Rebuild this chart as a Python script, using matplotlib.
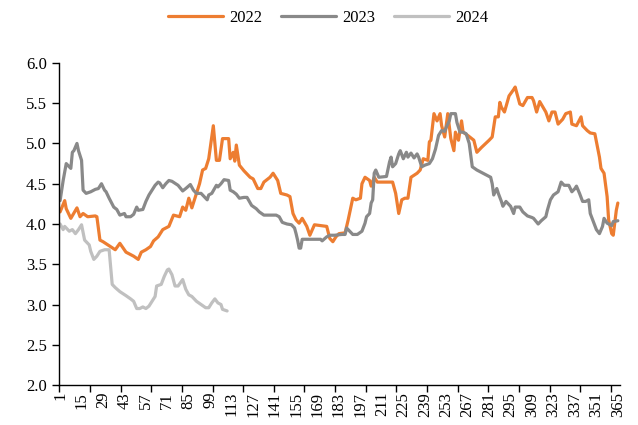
import matplotlib
matplotlib.use("Agg")
import matplotlib.pyplot as plt
from matplotlib.ticker import FixedLocator, NullFormatter

# ─── data (day of year, value) ───────────────────────────────────────────────

days_2022 = [1, 4, 5, 8, 12, 14, 16, 19, 24, 25, 27, 29, 37, 40, 44, 49, 52, 54,
             57, 60, 62, 65, 68, 72, 75, 79, 81, 83, 85, 87, 90, 92, 94, 96, 98,
             101, 103, 105, 107, 111, 112, 114, 115, 116, 118, 121, 125, 127, 130,
             132, 134, 138, 140, 143, 145, 149, 151, 153, 155, 157, 159, 162, 164,
             167, 171, 175, 177, 179, 181, 183, 187, 189, 192, 194, 197, 198, 200,
             203, 204, 206, 208, 218, 220, 222, 224, 226, 228, 230, 234, 236, 238,
             241, 242, 243, 245, 247, 249, 250, 252, 254, 256, 258, 259, 261, 263,
             264, 267, 271, 273, 276, 281, 283, 285, 287, 288, 289, 291, 294, 297,
             298, 301, 303, 306, 309, 310, 312, 314, 318, 320, 322, 324, 326, 329,
             331, 334, 335, 338, 341, 342, 345, 347, 350, 353, 354, 356, 358, 359,
             361, 362, 364, 365]
vals_2022 = [4.15, 4.29, 4.19, 4.07, 4.20, 4.09, 4.13, 4.09, 4.10, 4.09, 3.80, 3.78,
             3.68, 3.76, 3.65, 3.60, 3.56, 3.65, 3.68, 3.72, 3.79, 3.84, 3.93, 3.97,
             4.11, 4.09, 4.21, 4.17, 4.32, 4.20, 4.38, 4.50, 4.67, 4.69, 4.81, 5.22,
             4.79, 4.79, 5.06, 5.06, 4.81, 4.89, 4.78, 4.98, 4.73, 4.66, 4.58, 4.56,
             4.44, 4.44, 4.52, 4.58, 4.63, 4.54, 4.38, 4.36, 4.34, 4.13, 4.05, 4.01,
             4.07, 3.97, 3.86, 3.99, 3.98, 3.97, 3.82, 3.78, 3.84, 3.88, 3.89, 4.05,
             4.32, 4.30, 4.32, 4.50, 4.58, 4.54, 4.47, 4.58, 4.52, 4.52, 4.38, 4.13,
             4.30, 4.32, 4.32, 4.58, 4.63, 4.67, 4.81, 4.79, 5.02, 5.04, 5.37, 5.28,
             5.37, 5.22, 5.08, 5.37, 5.06, 4.91, 5.14, 5.04, 5.28, 5.14, 5.10, 5.04,
             4.89, 4.95, 5.04, 5.08, 5.33, 5.33, 5.51, 5.45, 5.39, 5.59, 5.67, 5.70,
             5.49, 5.47, 5.57, 5.57, 5.53, 5.39, 5.52, 5.39, 5.28, 5.39, 5.39, 5.24,
             5.30, 5.37, 5.39, 5.24, 5.22, 5.33, 5.22, 5.16, 5.13, 5.12, 4.83, 4.69,
             4.63, 4.34, 4.05, 3.88, 3.86, 4.17, 4.26]

days_2023 = [1, 3, 5, 7, 8, 9, 10, 12, 13, 15, 16, 18, 21, 24, 26, 28, 30, 31, 33,
             36, 38, 40, 43, 44, 47, 49, 51, 52, 55, 57, 59, 61, 63, 65, 66, 68, 70,
             72, 74, 78, 81, 83, 86, 88, 90, 93, 95, 97, 98, 100, 103, 104, 106, 108,
             111, 112, 114, 116, 118, 121, 123, 126, 129, 131, 134, 142, 144, 146,
             149, 152, 154, 155, 156, 157, 158, 159, 171, 172, 175, 177, 180, 185,
             187, 188, 190, 192, 195, 198, 200, 201, 203, 204, 205, 206, 207, 209,
             214, 216, 217, 218, 220, 222, 223, 225, 227, 228, 230, 232, 234, 235,
             237, 239, 242, 244, 246, 248, 250, 252, 253, 255, 256, 259, 260, 262,
             264, 266, 268, 270, 273, 277, 282, 283, 284, 286, 287, 289, 290, 292,
             295, 297, 298, 301, 303, 306, 309, 310, 313, 315, 318, 319, 321, 323,
             326, 328, 330, 333, 335, 337, 338, 340, 342, 344, 346, 347, 349, 351,
             353, 355, 356, 358, 361, 362, 365]
vals_2023 = [4.29, 4.54, 4.75, 4.71, 4.69, 4.89, 4.91, 5.00, 4.91, 4.79, 4.42, 4.38,
             4.40, 4.43, 4.44, 4.50, 4.42, 4.40, 4.32, 4.21, 4.18, 4.11, 4.13, 4.09,
             4.09, 4.12, 4.21, 4.17, 4.18, 4.28, 4.36, 4.42, 4.48, 4.52, 4.51, 4.45,
             4.50, 4.54, 4.53, 4.48, 4.41, 4.44, 4.49, 4.42, 4.38, 4.38, 4.34, 4.30,
             4.36, 4.38, 4.48, 4.46, 4.50, 4.55, 4.54, 4.42, 4.40, 4.37, 4.32, 4.33,
             4.33, 4.23, 4.19, 4.15, 4.11, 4.11, 4.09, 4.02, 4.00, 3.99, 3.95, 3.88,
             3.80, 3.70, 3.70, 3.81, 3.81, 3.79, 3.84, 3.86, 3.86, 3.87, 3.87, 3.95,
             3.91, 3.87, 3.87, 3.91, 4.01, 4.09, 4.13, 4.26, 4.30, 4.63, 4.67, 4.58,
             4.59, 4.77, 4.83, 4.71, 4.75, 4.87, 4.91, 4.81, 4.89, 4.83, 4.88, 4.82,
             4.87, 4.83, 4.71, 4.73, 4.75, 4.81, 4.93, 5.10, 5.16, 5.15, 5.20, 5.28,
             5.37, 5.37, 5.26, 5.14, 5.14, 5.12, 5.00, 4.71, 4.67, 4.63, 4.58, 4.50,
             4.36, 4.44, 4.38, 4.28, 4.22, 4.28, 4.22, 4.13, 4.21, 4.21, 4.15, 4.10,
             4.08, 4.07, 4.00, 4.04, 4.09, 4.17, 4.30, 4.36, 4.40, 4.52, 4.48, 4.48,
             4.40, 4.44, 4.47, 4.38, 4.28, 4.28, 4.30, 4.13, 4.03, 3.93, 3.88, 3.97,
             4.07, 4.01, 3.98, 4.03, 4.04]

days_2024 = [1, 3, 4, 7, 9, 11, 13, 15, 17, 20, 21, 23, 25, 27, 30, 33, 35, 37, 40,
             44, 47, 49, 51, 53, 55, 57, 59, 61, 63, 64, 67, 69, 71, 72, 74, 76, 78,
             81, 83, 85, 87, 90, 93, 96, 98, 100, 102, 104, 106, 107, 110]
vals_2024 = [4.00, 3.93, 3.97, 3.91, 3.93, 3.88, 3.93, 3.99, 3.80, 3.74, 3.66, 3.56,
             3.60, 3.66, 3.68, 3.68, 3.25, 3.21, 3.16, 3.11, 3.07, 3.04, 2.95, 2.95,
             2.97, 2.95, 2.98, 3.04, 3.10, 3.23, 3.25, 3.35, 3.43, 3.44, 3.37, 3.23,
             3.23, 3.31, 3.19, 3.12, 3.10, 3.04, 3.00, 2.96, 2.96, 3.02, 3.07, 3.02,
             3.00, 2.94, 2.92]

x_labels = list(range(1, 366, 14))
y_ticks = [2.0, 2.5, 3.0, 3.5, 4.0, 4.5, 5.0, 5.5, 6.0]

# ─── figure ──────────────────────────────────────────────────────────────────

plt.rcParams.update({
    "font.family": ["Liberation Serif", "DejaVu Serif"],
    "font.size": 12,
})

fig = plt.figure(figsize=(6.38, 4.25), dpi=100)
ax = fig.add_axes([0.093, 0.094, 0.879, 0.758])

lw = 2.3
ax.plot(days_2022, vals_2022, color="#ED7D31", lw=lw, label="2022",
        solid_joinstyle="round", solid_capstyle="round")
ax.plot(days_2023, vals_2023, color="#898989", lw=lw, label="2023",
        solid_joinstyle="round", solid_capstyle="round")
ax.plot(days_2024, vals_2024, color="#C0C0C0", lw=lw, label="2024",
        solid_joinstyle="round", solid_capstyle="round")

ax.set_xlim(0.5, 366.5)
ax.set_ylim(2.0, 6.0)
ax.set_yticks(y_ticks)
ax.set_yticklabels([f"{v:.1f}" for v in y_ticks])

# labels every 14 days, tick marks every 20 days (category boundaries)
ax.set_xticks(x_labels)
ax.set_xticklabels([str(d) for d in x_labels], rotation=90)
ax.tick_params(axis="x", which="major", length=0, pad=5)
ax.xaxis.set_minor_locator(FixedLocator([0.5 + 20 * k for k in range(19)]))
ax.xaxis.set_minor_formatter(NullFormatter())
ax.tick_params(axis="x", which="minor", length=5, width=1, direction="out")
ax.tick_params(axis="y", length=5, width=1, direction="out", pad=4)

for side in ("top", "right"):
    ax.spines[side].set_visible(False)
for side in ("left", "bottom"):
    ax.spines[side].set_linewidth(1)
    ax.spines[side].set_color("black")

fig.legend(loc="center", bbox_to_anchor=(0.514, 0.958), ncol=3, frameon=False,
           fontsize=12, handlelength=3.3, columnspacing=1.1, handletextpad=0.4)

fig.savefig("out.png", dpi=100)
